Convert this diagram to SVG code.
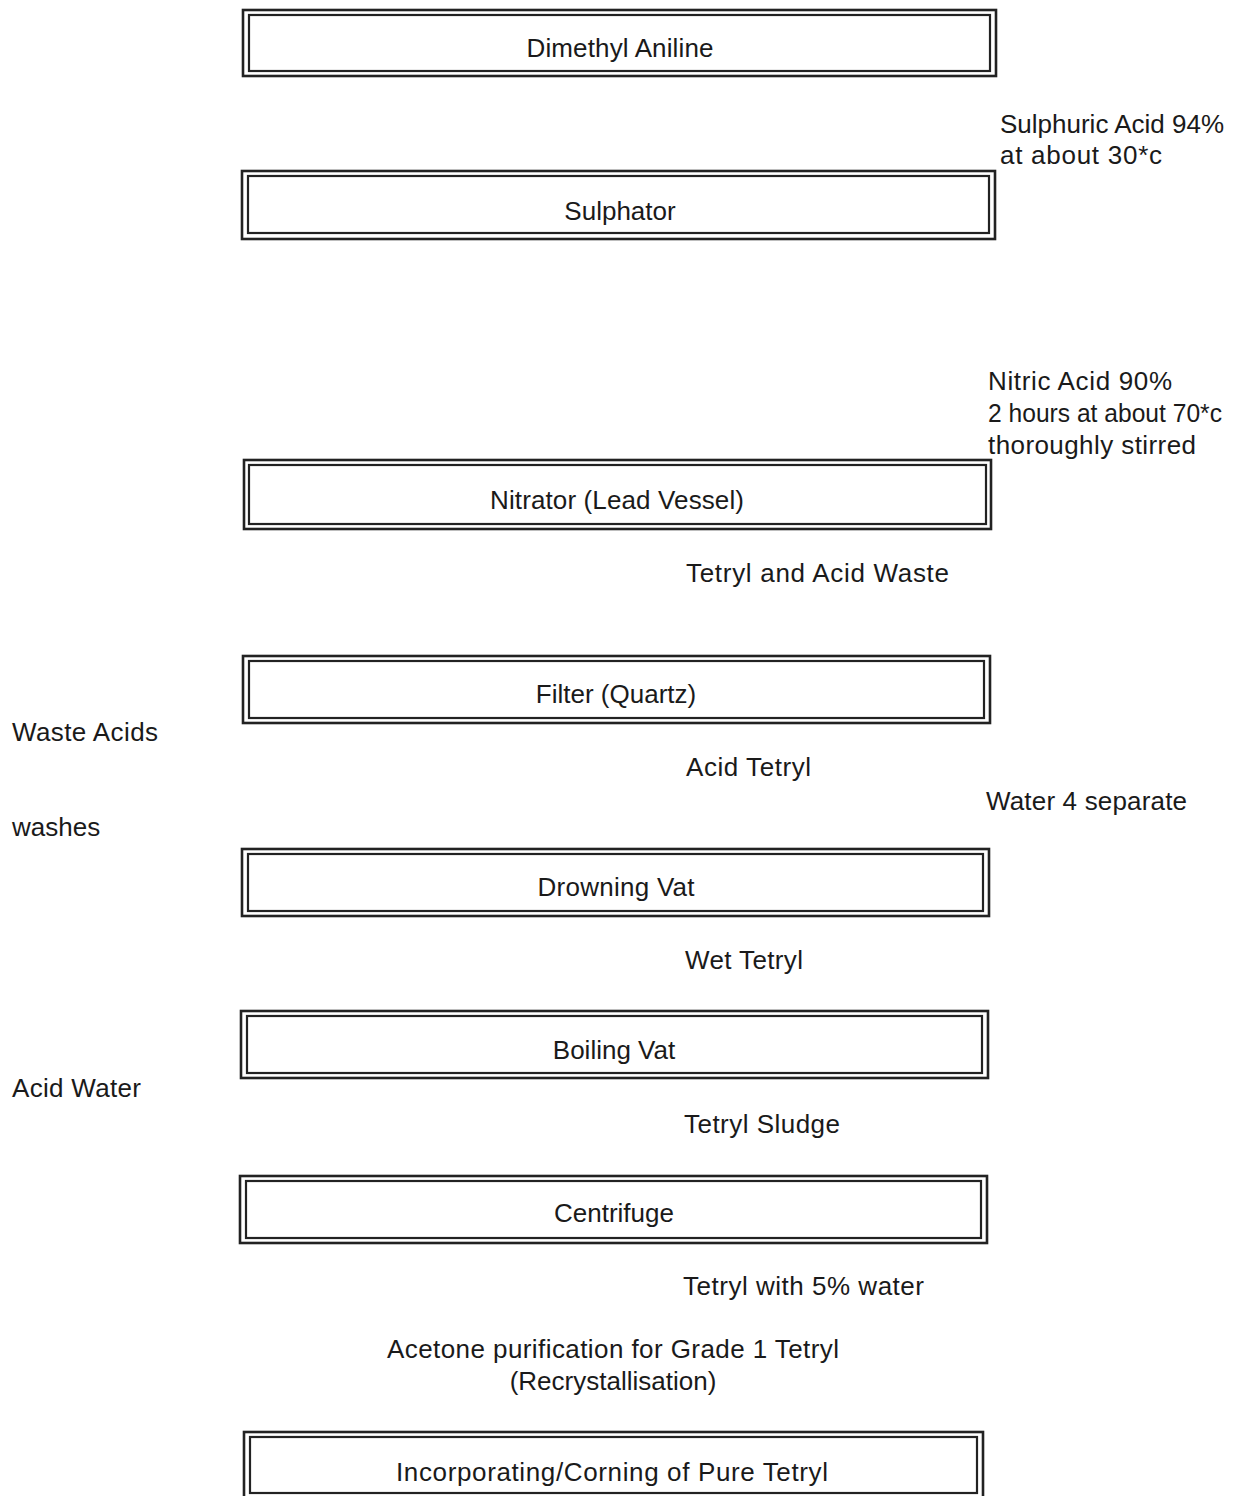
<svg xmlns="http://www.w3.org/2000/svg" width="1237" height="1496" viewBox="0 0 1237 1496">
<style>
.o{fill:none;stroke:#222;stroke-width:2.6}
.i{fill:none;stroke:#222;stroke-width:2.2}
text{font-family:"Liberation Sans",Arial,Helvetica,sans-serif;font-size:26px;fill:#1a1a1a}
.c{text-anchor:middle}
</style>
<rect width="1237" height="1496" fill="#fff"/>
<g id="connectors"></g>
<g id="n1"><rect class="o" x="243" y="10" width="753" height="66"/><rect class="i" x="249" y="15" width="741" height="56"/><text class="c" x="620" y="57" textLength="187" lengthAdjust="spacing">Dimethyl Aniline</text></g>
<g id="n2"><rect class="o" x="242" y="171" width="753" height="68"/><rect class="i" x="248" y="176" width="741" height="57"/><text class="c" x="620" y="220">Sulphator</text></g>
<g id="n3"><rect class="o" x="244" y="460" width="747" height="69"/><rect class="i" x="249" y="465" width="737" height="59"/><text class="c" x="617" y="509" textLength="254" lengthAdjust="spacing">Nitrator (Lead Vessel)</text></g>
<g id="n4"><rect class="o" x="243" y="656" width="747" height="67"/><rect class="i" x="249" y="661" width="735" height="57"/><text class="c" x="616" y="703">Filter (Quartz)</text></g>
<g id="n5"><rect class="o" x="242" y="849" width="747" height="67"/><rect class="i" x="248" y="854" width="735" height="57"/><text class="c" x="616" y="896" textLength="157" lengthAdjust="spacing">Drowning Vat</text></g>
<g id="n6"><rect class="o" x="241" y="1011" width="747" height="67"/><rect class="i" x="247" y="1016" width="735" height="57"/><text class="c" x="614" y="1059">Boiling Vat</text></g>
<g id="n7"><rect class="o" x="240" y="1176" width="747" height="67"/><rect class="i" x="246" y="1181" width="735" height="57"/><text class="c" x="614" y="1222">Centrifuge</text></g>
<g id="n8"><rect class="o" x="244" y="1432" width="739" height="70"/><rect class="i" x="250" y="1437" width="727" height="56"/><text class="c" x="612" y="1481" textLength="432" lengthAdjust="spacing">Incorporating/Corning of Pure Tetryl</text></g>
<g id="labels">
<text x="1000" y="133">Sulphuric Acid 94%</text>
<text x="1000" y="164" textLength="162" lengthAdjust="spacing">at about 30*c</text>
<text x="988" y="390" textLength="184" lengthAdjust="spacing">Nitric Acid 90%</text>
<text x="988" y="422" textLength="234" lengthAdjust="spacingAndGlyphs">2 hours at about 70*c</text>
<text x="988" y="454" textLength="208" lengthAdjust="spacing">thoroughly stirred</text>
<text x="686" y="582" textLength="263" lengthAdjust="spacing">Tetryl and Acid Waste</text>
<text x="12" y="741" textLength="146" lengthAdjust="spacing">Waste Acids</text>
<text x="686" y="776" textLength="125" lengthAdjust="spacing">Acid Tetryl</text>
<text x="986" y="810" textLength="201" lengthAdjust="spacing">Water 4 separate</text>
<text x="12" y="836">washes</text>
<text x="685" y="969" textLength="118" lengthAdjust="spacing">Wet Tetryl</text>
<text x="12" y="1097" textLength="129" lengthAdjust="spacing">Acid Water</text>
<text x="684" y="1133" textLength="156" lengthAdjust="spacing">Tetryl Sludge</text>
<text x="683" y="1295" textLength="241" lengthAdjust="spacing">Tetryl with 5% water</text>
<text class="c" x="613" y="1358" textLength="452" lengthAdjust="spacing">Acetone purification for Grade 1 Tetryl</text>
<text class="c" x="613" y="1390">(Recrystallisation)</text>
</g>
</svg>
